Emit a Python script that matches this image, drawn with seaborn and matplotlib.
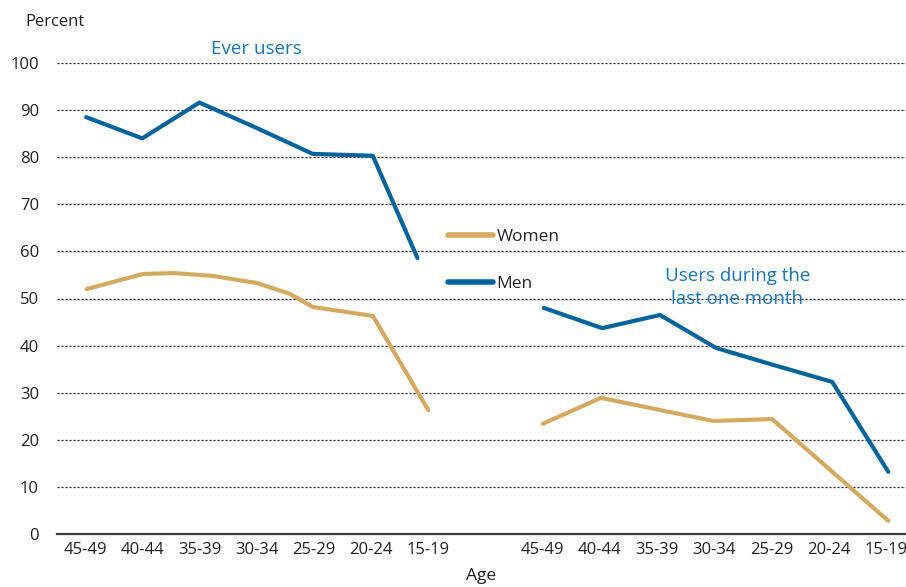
import matplotlib.pyplot as plt
import seaborn as sns
import pandas as pd

ages = ['45-49', '40-44', '35-39', '30-34', '25-29', '20-24', '15-19']
tick_pos = [0, 1, 2, 3, 4, 5, 6, 8, 9, 10, 11, 12, 13, 14]
tick_labels = ages + ages

# ever users (left block), x in age-group units
men_ever_x = [0.02, 1.0, 2.0, 3.0, 3.98, 5.03, 5.81]
men_ever = [88.5, 84.0, 91.6, 86.2, 80.7, 80.3, 58.6]
women_ever_x = [0.03, 1.01, 1.54, 2.23, 3.0, 3.58, 3.98, 5.03, 6.0]
women_ever = [52.0, 55.2, 55.4, 54.8, 53.3, 51.0, 48.2, 46.3, 26.3]

# users during the last one month (right block)
men_month_x = [8.02, 9.04, 10.05, 11.03, 12.03, 13.06, 14.04]
men_month = [48.0, 43.7, 46.5, 39.5, 35.9, 32.3, 13.2]
women_month_x = [8.0, 9.02, 10.98, 12.01, 14.04]
women_month = [23.4, 28.9, 24.0, 24.4, 2.8]

rows = []
for sex, panel, xs, ys in [('Women', 'ever', women_ever_x, women_ever),
                           ('Men', 'ever', men_ever_x, men_ever),
                           ('Women', 'month', women_month_x, women_month),
                           ('Men', 'month', men_month_x, men_month)]:
    for x, y in zip(xs, ys):
        rows.append({'x': x, 'pct': y, 'sex': sex, 'panel': panel})
df = pd.DataFrame(rows)

sns.set_style('white')
plt.rcParams['font.family'] = ['Open Sans', 'DejaVu Sans']

BLUE = '#00649b'
TAN = '#d4aa63'
TEXT_BLUE = '#1874b0'

fig = plt.figure(figsize=(9.06, 5.87), dpi=100)
ax = fig.add_axes([57 / 906, 1 - 534 / 587, 1 - 57 / 906, (534 - 63) / 587])

sns.lineplot(data=df, x='x', y='pct', hue='sex', units='panel', estimator=None,
             sort=False, hue_order=['Women', 'Men'], palette=[TAN, BLUE],
             linewidth=3, ax=ax, legend=False)

ax.set_xlim(-0.49, 14.35)
ax.set_ylim(0, 100)
ax.set_yticks(range(0, 101, 10))
ax.set_xticks(tick_pos)
ax.set_xticklabels(tick_labels)
ax.tick_params(axis='both', length=0, labelsize=12, colors='#231f20')
ax.tick_params(axis='x', pad=6)
ax.tick_params(axis='y', pad=13)

for v in range(10, 101, 10):
    ax.axhline(v, color='#231f20', lw=0.9, ls=(0, (1.6, 1.6)), zorder=0)

for s in ['top', 'right', 'left']:
    ax.spines[s].set_visible(False)
ax.spines['bottom'].set_color('#3a3a3a')
ax.spines['bottom'].set_linewidth(1.6)

ax.set_xlabel('Age', fontsize=12.5, color='#231f20', labelpad=7)
ax.set_ylabel('')
fig.text(25 / 906, 1 - 22 / 587, 'Percent', fontsize=12, color='#231f20',
         ha='left', va='center')

ax.text(2.99, 103.0, 'Ever users', color=TEXT_BLUE, fontsize=13.5,
        ha='center', va='center', clip_on=False)
ax.text(11.4, 52.4, 'Users during the\nlast one month', color=TEXT_BLUE,
        fontsize=13.5, ha='center', va='center', linespacing=1.35)

handles = [plt.Line2D([], [], color=TAN, lw=4), plt.Line2D([], [], color=BLUE, lw=4)]
ax.legend(handles, ['Women', 'Men'], loc='upper left',
          bbox_to_anchor=((448 - 57) / 849, (534 - 229) / 471),
          frameon=False, fontsize=12.5, handlelength=2.6, handletextpad=0.2,
          labelspacing=1.75, borderaxespad=0, borderpad=0)

fig.savefig('out.png', dpi=100)
